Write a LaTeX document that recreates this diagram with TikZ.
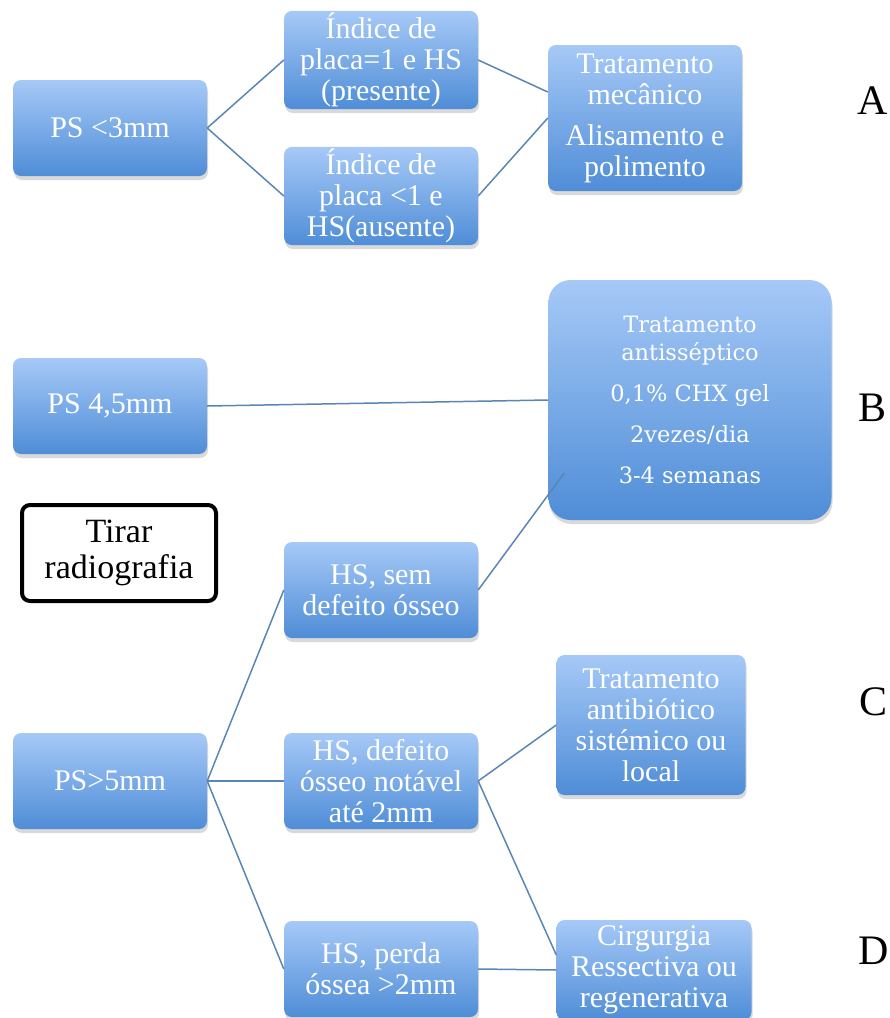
\documentclass[tikz,border=0pt]{standalone}
\usepackage{fontspec}
\setmainfont{Liberation Serif}
\newfontfamily\slabfont{DejaVu Serif}
\usepackage{tikz}
\usetikzlibrary{shadows}
\definecolor{boxtop}{HTML}{A6C9F7}
\definecolor{boxbot}{HTML}{4F8DD7}
\definecolor{wire}{HTML}{5A86B5}

\begin{document}
\begin{tikzpicture}[
  x=1pt, y=-1pt,
  font=\fontsize{30}{31}\selectfont,
  card/.style={rounded corners=8pt, top color=boxtop, bottom color=boxbot, text=white, align=center, inner sep=2pt, minimum width=194pt, minimum height=96pt, drop shadow={opacity=0.3, shadow xshift=1pt, shadow yshift=-4pt}},
  note/.style={draw=black, line width=4pt, rounded corners=8pt, fill=white, align=center, inner sep=2pt, minimum width=194pt, minimum height=96pt, font=\fontsize{34}{36}\selectfont},
  tag/.style={font=\fontsize{42}{44}\selectfont},
  conn/.style={draw=wire, line width=1.5pt}
]
  \useasboundingbox (0,0) rectangle (890,1018);
  % A
  \node[card] (ps3) at (110,128) {PS <3mm};
  \node[card] (plq1) at (381,60) {Índice de\\placa=1 e HS\\(presente)};
  \node[card] (plq0) at (381,196) {Índice de\\placa <1 e\\HS(ausente)};
  \node[card, minimum height=146pt] (mec) at (645,118) {Tratamento\\mecânico\\[10pt]Alisamento e\\polimento};
  % B
  \node[card] (ps45) at (110,406) {PS 4,5mm};
  \node[card, minimum width=283pt, minimum height=240pt, rounded corners=22pt, font=\slabfont\fontsize{22.5}{28}\selectfont] (anti) at (690,400) {Tratamento\\antisséptico\\[13pt]0,1\% CHX gel\\[13pt]2vezes/dia\\[13pt]3-4 semanas};
  \node[note] (xray) at (119,553) {Tirar\\radiografia};
  % C, D
  \node[card] (sem) at (381,590) {HS, sem\\defeito ósseo};
  \node[card] (ps5) at (110,781) {PS>5mm};
  \node[card] (def) at (381,781) {HS, defeito\\ósseo notável\\até 2mm};
  \node[card] (perda) at (381,969) {HS, perda\\óssea >2mm};
  \node[card, minimum width=189pt, minimum height=140pt] (abx) at (651,725) {Tratamento\\antibiótico\\sistémico ou\\local};
  \node[card, minimum width=195pt, minimum height=100pt] (cir) at (654,970) {Cirgurgia\\Ressectiva ou\\regenerativa};
  \node[tag] (la) at (873,101) {A};
  \node[tag] (lb) at (872,408) {B};
  \node[tag] (lc) at (873,702) {C};
  \node[tag] (ld) at (874,951) {D};
  \draw[conn] (ps3.east) -- (plq1.west);
  \draw[conn] (ps3.east) -- (plq0.west);
  \draw[conn] (plq1.east) -- ([yshift=26pt]mec.west);
  \draw[conn] (plq0.east) -- (mec.west);
  \draw[conn] (ps45.east) -- (anti.west);
  \draw[conn] (sem.east) -- ([xshift=16pt,yshift=-73pt]anti.west);
  \draw[conn] (ps5.east) -- (sem.west);
  \draw[conn] (ps5.east) -- (def.west);
  \draw[conn] (ps5.east) -- (perda.west);
  \draw[conn] (def.east) -- (abx.west);
  \draw[conn] (def.east) -- ([yshift=15pt]cir.west);
  \draw[conn] (perda.east) -- (cir.west);
\end{tikzpicture}
\end{document}
